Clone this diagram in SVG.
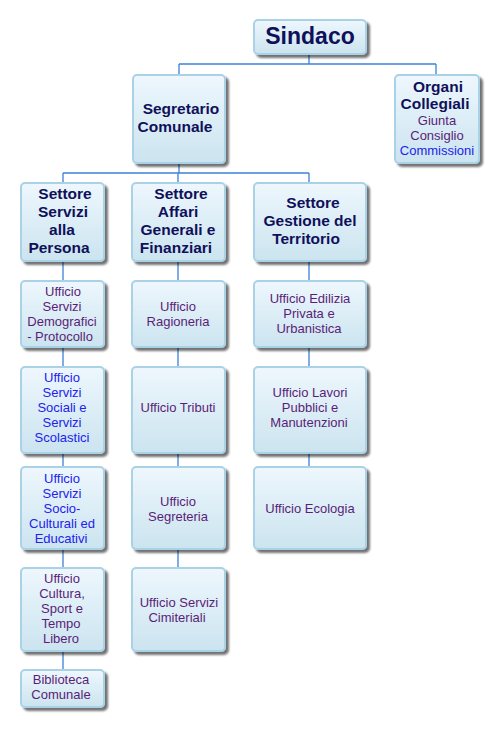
<svg xmlns="http://www.w3.org/2000/svg" width="498" height="731" viewBox="0 0 498 731">
<defs>
<linearGradient id="g" x1="0" y1="0" x2="0" y2="1">
<stop offset="0" stop-color="#eef7fd"/>
<stop offset="1" stop-color="#cbe4ef"/>
</linearGradient>
<filter id="sh" x="-20%" y="-20%" width="140%" height="140%">
<feGaussianBlur in="SourceAlpha" stdDeviation="1.2"/>
<feOffset dx="3" dy="3" result="b"/>
<feComponentTransfer><feFuncA type="linear" slope="0.55"/></feComponentTransfer>
<feMerge><feMergeNode/><feMergeNode in="SourceGraphic"/></feMerge>
</filter>
</defs>
<style>
.box{fill:url(#g);stroke:#a9d2e7;stroke-width:2;filter:url(#sh)}
.ln{stroke:#3b82d6;stroke-width:1.3;fill:none}
text{font-family:"Liberation Sans",Arial,sans-serif;text-anchor:middle}
.t{font-size:23px;font-weight:bold;fill:#10105a}
.h{font-size:15.5px;font-weight:bold;fill:#10105a}
.o{font-size:13px;fill:#5a1e78}
.b{fill:#2222ee}
</style>
<rect width="498" height="731" fill="#ffffff"/>
<g id="connectors">
<path class="ln" d="M309 54V64M179 64H436M179 64V75M436 64V75"/>
<path class="ln" d="M179 163V173M63 173H309M63 173V183M178 173V183M309 173V183"/>
<path class="ln" d="M63 261V281M63 347V367M63 453V467M63 549V568M63 651V670"/>
<path class="ln" d="M178 261V281M178 347V367M178 453V467M178 549V568"/>
<path class="ln" d="M309 261V281M309 347V367M309 453V467"/>
</g>
<g id="sindaco"><rect class="box" x="254" y="20" width="112" height="34" rx="4"/><text class="t" x="310" y="44">Sindaco</text></g>
<g id="segretario"><rect class="box" x="133" y="75" width="92" height="88" rx="4"/>
<text class="h"><tspan x="181" y="114">Segretario</tspan><tspan x="175" y="132">Comunale</tspan></text></g>
<g id="organi"><rect class="box" x="395" y="75" width="84" height="88" rx="4"/>
<text class="h"><tspan x="438" y="92">Organi</tspan><tspan x="435" y="109">Collegiali</tspan></text>
<text class="o"><tspan x="437" y="125">Giunta</tspan><tspan x="437" y="140">Consiglio</tspan><tspan class="b" x="437" y="155">Commissioni</tspan></text></g>
<g id="settore-servizi"><rect class="box" x="21" y="183" width="83" height="78" rx="4"/>
<text class="h"><tspan x="65" y="199">Settore</tspan><tspan x="63" y="217">Servizi</tspan><tspan x="62" y="235">alla</tspan><tspan x="59" y="253">Persona</tspan></text></g>
<g id="settore-affari"><rect class="box" x="132" y="183" width="93" height="78" rx="4"/>
<text class="h"><tspan x="181" y="199">Settore</tspan><tspan x="178" y="217">Affari</tspan><tspan x="178" y="235">Generali e</tspan><tspan x="176" y="253">Finanziari</tspan></text></g>
<g id="settore-gestione"><rect class="box" x="254" y="183" width="112" height="78" rx="4"/>
<text class="h"><tspan x="313" y="208">Settore</tspan><tspan x="310" y="226">Gestione del</tspan><tspan x="306" y="244">Territorio</tspan></text></g>
<g id="uff-demografici"><rect class="box" x="21" y="281" width="83" height="66" rx="4"/>
<text class="o"><tspan x="63" y="296">Ufficio</tspan><tspan x="62" y="311">Servizi</tspan><tspan x="62" y="326">Demografici</tspan><tspan x="60" y="341">- Protocollo</tspan></text></g>
<g id="uff-sociali"><rect class="box" x="21" y="367" width="83" height="86" rx="4"/>
<text class="o b"><tspan x="62" y="382">Ufficio</tspan><tspan x="62" y="397">Servizi</tspan><tspan x="62" y="412">Sociali e</tspan><tspan x="62" y="427">Servizi</tspan><tspan x="62" y="442">Scolastici</tspan></text></g>
<g id="uff-socioculturali"><rect class="box" x="21" y="467" width="83" height="82" rx="4"/>
<text class="o b"><tspan x="62" y="483">Ufficio</tspan><tspan x="62" y="498">Servizi</tspan><tspan x="62" y="513">Socio-</tspan><tspan x="62" y="528">Culturali ed</tspan><tspan x="61" y="543">Educativi</tspan></text></g>
<g id="uff-cultura"><rect class="box" x="21" y="568" width="83" height="83" rx="4"/>
<text class="o"><tspan x="62" y="583">Ufficio</tspan><tspan x="62" y="598">Cultura,</tspan><tspan x="62" y="613">Sport e</tspan><tspan x="61" y="628">Tempo</tspan><tspan x="61" y="643">Libero</tspan></text></g>
<g id="biblioteca"><rect class="box" x="21" y="670" width="83" height="37" rx="4"/>
<text class="o"><tspan x="61" y="684">Biblioteca</tspan><tspan x="61" y="699">Comunale</tspan></text></g>
<g id="uff-ragioneria"><rect class="box" x="132" y="281" width="93" height="66" rx="4"/>
<text class="o"><tspan x="178" y="311">Ufficio</tspan><tspan x="178" y="326">Ragioneria</tspan></text></g>
<g id="uff-tributi"><rect class="box" x="132" y="367" width="93" height="86" rx="4"/>
<text class="o"><tspan x="178" y="412">Ufficio Tributi</tspan></text></g>
<g id="uff-segreteria"><rect class="box" x="132" y="467" width="93" height="82" rx="4"/>
<text class="o"><tspan x="178" y="506">Ufficio</tspan><tspan x="178" y="521">Segreteria</tspan></text></g>
<g id="uff-cimiteriali"><rect class="box" x="132" y="568" width="93" height="83" rx="4"/>
<text class="o"><tspan x="179" y="607">Ufficio Servizi</tspan><tspan x="177" y="622">Cimiteriali</tspan></text></g>
<g id="uff-edilizia"><rect class="box" x="254" y="281" width="112" height="66" rx="4"/>
<text class="o"><tspan x="310" y="303">Ufficio Edilizia</tspan><tspan x="309" y="318">Privata e</tspan><tspan x="309" y="333">Urbanistica</tspan></text></g>
<g id="uff-lavori"><rect class="box" x="254" y="367" width="112" height="86" rx="4"/>
<text class="o"><tspan x="310" y="397">Ufficio Lavori</tspan><tspan x="310" y="412">Pubblici e</tspan><tspan x="309" y="427">Manutenzioni</tspan></text></g>
<g id="uff-ecologia"><rect class="box" x="254" y="467" width="112" height="82" rx="4"/>
<text class="o"><tspan x="310" y="513">Ufficio Ecologia</tspan></text></g>
</svg>
